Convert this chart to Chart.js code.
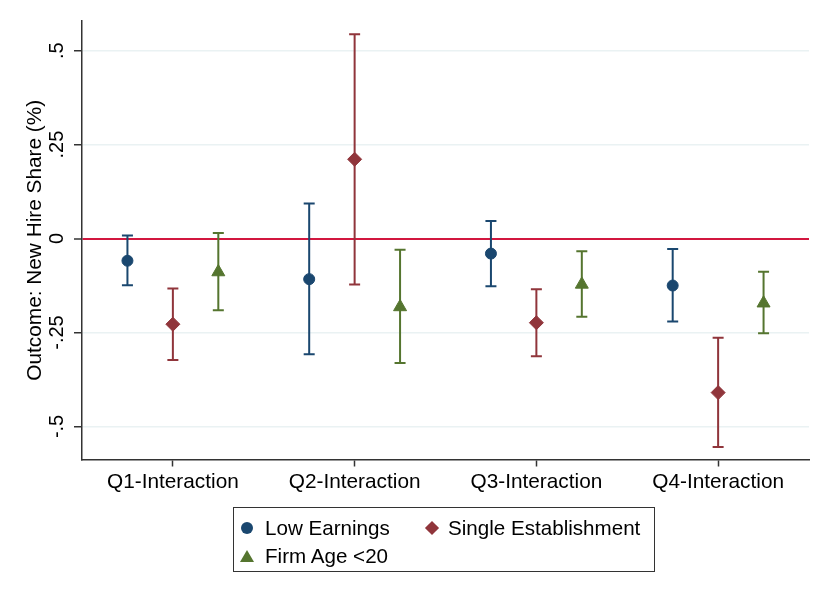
<!DOCTYPE html>
<html>
<head>
<meta charset="utf-8">
<script src="https://cdn.jsdelivr.net/npm/chart.js@4.4.1/dist/chart.umd.min.js"></script>
<style>
  html, body { margin: 0; padding: 0; background: #fff; }
  #wrap { position: relative; width: 830px; height: 604px; }
  #legend {
    position: absolute; left: 233px; top: 507px; width: 422px; height: 65px;
    border: 1px solid #333; box-sizing: border-box;
    font-family: "Liberation Sans", Arial, sans-serif; font-size: 20.6px; color: #000;
  }
  .item { position: absolute; white-space: nowrap; line-height: 24px; }
  .mk { position: absolute; }
</style>
</head>
<body>
<div id="wrap">
  <canvas id="chart" width="830" height="604"></canvas>
  <div id="legend"></div>
</div>
<script>
// ================= DATA =================
const categories = ["Q1-Interaction", "Q2-Interaction", "Q3-Interaction", "Q4-Interaction"];
const yTicks = [-0.5, -0.25, 0, 0.25, 0.5];
const yTickLabels = ["-.5", "-.25", "0", ".25", ".5"];

const lowEarn = [-0.059, -0.108, -0.040, -0.125];
const lowEarnLo = [-0.124, -0.308, -0.127, -0.221];
const lowEarnHi = [0.008, 0.093, 0.047, -0.028];

const singleEst = [-0.228, 0.211, -0.224, -0.410];
const singleEstLo = [-0.323, -0.122, -0.313, -0.555];
const singleEstHi = [-0.133, 0.544, -0.135, -0.264];

const firmAge = [-0.089, -0.182, -0.122, -0.172];
const firmAgeLo = [-0.191, -0.331, -0.208, -0.252];
const firmAgeHi = [0.015, -0.030, -0.034, -0.088];

const seriesNames = ["Low Earnings", "Single Establishment", "Firm Age <20"];

// ================= STYLE =================
const FONT = '"Liberation Sans", Arial, sans-serif';
const BLUE = "#1a476f", RED = "#90353b", GREEN = "#55752f";
const GRID = "#eaf2f3", ZERO = "#d2173f", AXIS = "#333";

function points(vals, shift) {
  return vals.map((v, i) => ({ x: i + 1 + shift, y: v }));
}

function series(label, vals, lo, hi, shift, color, style, r) {
  return {
    label,
    data: points(vals, shift),
    ci: { lo, hi, shift },
    backgroundColor: color,
    borderColor: color,
    pointStyle: style,
    pointRadius: r,
    pointHoverRadius: r,
    pointBorderWidth: 1,
    showLine: false
  };
}

// ===== error bars (under markers) =====
const errorBars = {
  id: "errorBars",
  beforeDatasetsDraw(chart) {
    const { ctx, scales: { x, y } } = chart;
    ctx.save();
    ctx.lineWidth = 2;
    chart.data.datasets.forEach(ds => {
      ctx.strokeStyle = ds.borderColor;
      ds.ci.lo.forEach((lo, i) => {
        const px = x.getPixelForValue(i + 1 + ds.ci.shift);
        const y1 = y.getPixelForValue(lo);
        const y2 = y.getPixelForValue(ds.ci.hi[i]);
        ctx.beginPath();
        ctx.moveTo(px, y1); ctx.lineTo(px, y2);
        ctx.moveTo(px - 5.5, y1); ctx.lineTo(px + 5.5, y1);
        ctx.moveTo(px - 5.5, y2); ctx.lineTo(px + 5.5, y2);
        ctx.stroke();
      });
    });
    ctx.restore();
  }
};

// ===== vertical y tick labels =====
const yLabels = {
  id: "yLabels",
  afterDraw(chart) {
    const { ctx, scales: { y } } = chart;
    ctx.save();
    ctx.fillStyle = "#000";
    ctx.font = "20px " + FONT;
    ctx.textAlign = "center";
    ctx.textBaseline = "middle";
    yTicks.forEach((t, i) => {
      ctx.save();
      ctx.translate(57, y.getPixelForValue(t));
      ctx.rotate(-Math.PI / 2);
      ctx.fillText(yTickLabels[i], 0, 0);
      ctx.restore();
    });
    ctx.restore();
  }
};

new Chart(document.getElementById("chart"), {
  type: "scatter",
  data: {
    datasets: [
      series(seriesNames[0], lowEarn, lowEarnLo, lowEarnHi, -0.25, BLUE, "circle", 5.5),
      series(seriesNames[1], singleEst, singleEstLo, singleEstHi, 0, RED, "rectRot", 7),
      series(seriesNames[2], firmAge, firmAgeLo, firmAgeHi, 0.25, GREEN, "triangle", 7.5)
    ]
  },
  options: {
    responsive: false,
    animation: false,
    devicePixelRatio: 1,
    layout: { padding: { top: 21, right: 21, left: 0, bottom: 0 } },
    plugins: { legend: { display: false }, tooltip: { enabled: false } },
    scales: {
      x: {
        type: "linear",
        min: 0.5,
        max: 4.5,
        afterBuildTicks: s => { s.ticks = categories.map((c, i) => ({ value: i + 1 })); },
        afterFit: s => { s.height = 144.5; },
        ticks: {
          callback: v => categories[v - 1],
          font: { family: FONT, size: 20.8 },
          color: "#000",
          padding: 3,
          maxRotation: 0
        },
        grid: { drawOnChartArea: false, drawTicks: true, tickLength: 7, tickColor: AXIS, tickWidth: 1.5 },
        border: { color: AXIS, width: 1.5 }
      },
      y: {
        min: -0.588,
        max: 0.579,
        afterBuildTicks: s => { s.ticks = yTicks.map(v => ({ value: v })); },
        afterFit: s => { s.width = 82; },
        ticks: { display: false },
        title: {
          display: true,
          text: "Outcome: New Hire Share (%)",
          font: { family: FONT, size: 20.8 },
          color: "#000",
          padding: { top: 23, bottom: 0 }
        },
        grid: {
          color: c => (c.tick && c.tick.value === 0 ? ZERO : GRID),
          lineWidth: c => (c.tick && c.tick.value === 0 ? 2 : 1.5),
          tickColor: AXIS,
          tickWidth: 1.5,
          tickLength: 8
        },
        border: { color: AXIS, width: 1.5 }
      }
    }
  },
  plugins: [errorBars, yLabels]
});

// ================= LEGEND =================
const legend = document.getElementById("legend");
const legendItems = [
  { name: seriesNames[0], color: BLUE, shape: "circle", left: 13, top: 20, textLeft: 31 },
  { name: seriesNames[1], color: RED, shape: "diamond", left: 197.5, top: 20, textLeft: 214 },
  { name: seriesNames[2], color: GREEN, shape: "triangle", left: 13, top: 48, textLeft: 31 }
];
legendItems.forEach(it => {
  const mk = document.createElement("div");
  mk.className = "mk";
  if (it.shape === "circle") {
    mk.style.cssText = `left:${it.left - 6}px;top:${it.top - 6}px;width:12px;height:12px;border-radius:50%;background:${it.color}`;
  } else if (it.shape === "diamond") {
    mk.style.cssText = `left:${it.left - 5}px;top:${it.top - 5}px;width:10px;height:10px;transform:rotate(45deg);background:${it.color}`;
  } else {
    mk.style.cssText = `left:${it.left - 7}px;top:${it.top - 6}px;width:0;height:0;border-left:7px solid transparent;border-right:7px solid transparent;border-bottom:12px solid ${it.color}`;
  }
  legend.appendChild(mk);
  const t = document.createElement("div");
  t.className = "item";
  t.textContent = it.name;
  t.style.left = it.textLeft + "px";
  t.style.top = (it.top - 12) + "px";
  legend.appendChild(t);
});
</script>
</body>
</html>
